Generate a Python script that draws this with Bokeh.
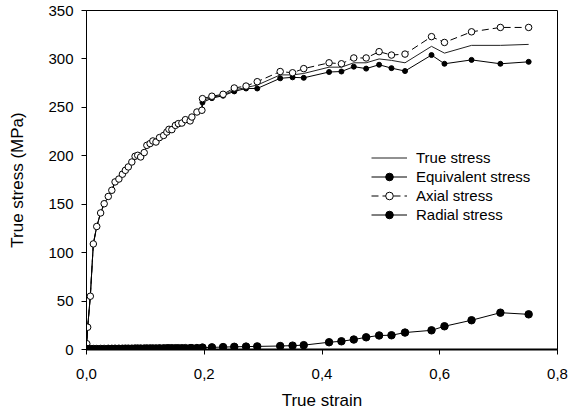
from bokeh.plotting import figure
from bokeh.models import FixedTicker, Legend, LegendItem, Range1d
from bokeh.embed import file_html
from bokeh.resources import INLINE

# ---- data ----
strain = [0.000, 0.0005, 0.002, 0.0065, 0.0116, 0.0174, 0.024, 0.030, 0.037, 0.043,
          0.0485, 0.055, 0.061, 0.066, 0.071, 0.077, 0.0825, 0.087, 0.092, 0.098,
          0.1025, 0.108, 0.1127, 0.118, 0.124, 0.131, 0.1365, 0.140, 0.145, 0.151,
          0.156, 0.162, 0.168, 0.176, 0.179, 0.1876, 0.196,
          0.197, 0.213, 0.232, 0.251, 0.271, 0.290, 0.329, 0.350, 0.369, 0.412,
          0.433, 0.454, 0.475, 0.497, 0.518, 0.541, 0.586, 0.608, 0.654, 0.703, 0.751]

true_stress = [0, 6, 23, 55, 109, 127, 141, 150.5, 158, 164.4,
               173, 176, 181, 185, 188.5, 193.6, 199.5, 200.5, 198.8, 203.3,
               210.8, 212.6, 215.3, 214.2, 218.8, 221, 224.5, 227.3, 227, 231.4,
               233.2, 233.8, 237.3, 236, 240, 245.2, 247,
               257, 260.5, 262.5, 268, 270.5, 273, 283.5, 283.5, 285, 291.5,
               291.5, 296, 296, 300, 298.5, 296, 313, 306, 314, 314, 315]

equivalent_stress = [0, 6, 23, 55, 109, 127, 141, 150.5, 158, 164.4,
                     173, 176, 181, 185, 188.5, 193.6, 199.5, 200.5, 198.8, 203.3,
                     210.8, 212.6, 215.3, 214.2, 218.8, 221, 224.5, 227.3, 227, 231.4,
                     233.2, 233.8, 237.3, 236, 240, 245.2, 247,
                     255, 259.5, 262, 266.5, 269.5, 269.5, 280, 281, 280.5, 286.5,
                     287, 292, 290, 294, 290.5, 287.5, 304, 295, 299, 295, 297]

axial_stress = [0, 6, 23, 55, 109, 127, 141, 150.5, 158, 164.4,
                173, 176, 181, 185, 188.5, 193.6, 199.5, 200.5, 198.8, 203.3,
                210.8, 212.6, 215.3, 214.2, 218.8, 221, 224.5, 227.3, 227, 231.4,
                233.2, 233.8, 237.3, 236, 240, 245.2, 247,
                259, 261.5, 263.5, 270, 272, 276.5, 287, 285.7, 290, 296,
                295, 301, 301, 307.5, 304, 305, 323, 317, 328, 332.5, 332.5]

radial_stress = [0, 0.2, 0.3, 0.4, 0.5, 0.5, 0.6, 0.6, 0.7, 0.7,
                 0.8, 0.8, 0.8, 0.9, 0.9, 0.9, 1.0, 1.0, 1.0, 1.0,
                 1.1, 1.1, 1.1, 1.1, 1.2, 1.2, 1.2, 1.2, 1.3, 1.3,
                 1.3, 1.3, 1.4, 1.4, 1.4, 1.5, 1.5,
                 2.0, 2.2, 2.5, 2.8, 3.0, 3.2, 3.6, 4.0, 4.5, 7.5,
                 8.5, 10.3, 12.6, 14.5, 14.7, 17.5, 19.8, 24.0, 30.2, 38.0, 36.3]

x_ticks = [0.0, 0.2, 0.4, 0.6, 0.8]
x_tick_labels = ["0,0", "0,2", "0,4", "0,6", "0,8"]
y_ticks = [0, 50, 100, 150, 200, 250, 300, 350]

FONT = "Liberation Sans"

p = figure(width=580, height=419, output_backend="svg", toolbar_location=None,
           x_range=Range1d(0, 0.8), y_range=Range1d(0, 350),
           min_border_left=86, min_border_right=23, min_border_top=10,
           min_border_bottom=70)
p.grid.visible = False
p.outline_line_color = "black"
p.outline_line_width = 1
p.background_fill_color = "white"
p.border_fill_color = "white"

# axes
p.xaxis.ticker = FixedTicker(ticks=x_ticks)
p.xaxis.major_label_overrides = {t: l for t, l in zip(x_ticks, x_tick_labels)}
p.yaxis.ticker = FixedTicker(ticks=y_ticks)
for ax in (p.xaxis, p.yaxis):
    ax.minor_tick_line_color = None
    ax.major_tick_in = 0
    ax.major_tick_out = 5
    ax.axis_line_color = "black"
    ax.major_tick_line_color = "black"
    ax.major_label_text_font = FONT
    ax.major_label_text_font_size = "15px"
    ax.major_label_text_color = "black"
    ax.axis_label_text_font = FONT
    ax.axis_label_text_font_size = "17px"
    ax.axis_label_text_font_style = "normal"
    ax.axis_label_text_color = "black"
p.xaxis.axis_line_width = 2
p.yaxis.axis_line_width = 1
p.xaxis.axis_label = "True strain"
p.yaxis.axis_label = "True stress (MPa)"
p.xaxis.major_label_standoff = 14
p.yaxis.major_label_standoff = 8
p.xaxis.axis_label_standoff = 9
p.yaxis.axis_label_standoff = 18

# series
r_true = p.line(strain, true_stress, line_color="#222222", line_width=1)

r_eq_l = p.line(strain, equivalent_stress, line_color="black", line_width=1)
r_eq_s = p.scatter(strain, equivalent_stress, marker="circle", size=5,
                   fill_color="black", line_color="black")

r_ax_l = p.line(strain, axial_stress, line_color="black", line_width=1, line_dash="7 4")
r_ax_s = p.scatter(strain, axial_stress, marker="circle", size=6.5,
                   fill_color="white", line_color="black", line_width=1)

r_rad_l = p.line(strain, radial_stress, line_color="black", line_width=1)
r_rad_s = p.scatter(strain, radial_stress, marker="circle", size=7.5,
                    fill_color="black", line_color="black")

legend = Legend(items=[
    LegendItem(label="True stress", renderers=[r_true]),
    LegendItem(label="Equivalent stress", renderers=[r_eq_l, r_eq_s]),
    LegendItem(label="Axial stress", renderers=[r_ax_l, r_ax_s]),
    LegendItem(label="Radial stress", renderers=[r_rad_l, r_rad_s]),
], location=(285, 125))
legend.padding = 0
legend.margin = 0
legend.spacing = 0
legend.border_line_alpha = 0
legend.background_fill_alpha = 0
legend.glyph_width = 36
legend.glyph_height = 19
legend.label_height = 19
legend.label_standoff = 9
legend.label_text_font = FONT
legend.label_text_font_size = "15px"
legend.label_text_color = "black"
p.add_layout(legend)

open("out.html", "w").write(file_html(p, INLINE))
